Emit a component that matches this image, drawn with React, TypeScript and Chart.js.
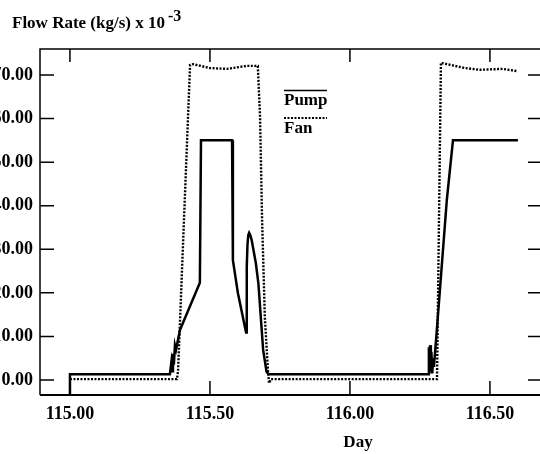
import React, { useEffect, useRef } from "react";
import { Chart, registerables } from "chart.js";
Chart.register(...registerables);

// ---- data ----
const pumpDay = [
  115.0, 115.0, 115.357, 115.362, 115.365, 115.368, 115.371, 115.375, 115.379, 115.393,
  115.464, 115.468, 115.579, 115.582, 115.6, 115.629, 115.631, 115.632, 115.634, 115.637,
  115.64, 115.644, 115.649, 115.664, 115.673, 115.69, 115.702, 115.71, 116.279, 116.282,
  116.284, 116.286, 116.289, 116.291, 116.294, 116.297, 116.3, 116.314, 116.346, 116.368,
  116.6,
];
const pumpFlow = [
  -3.4, 1.3, 1.3, 4, 2, 6, 3.5, 8, 7, 11.5,
  22.3, 55, 55, 27.5, 19.9, 10.9, 14.5, 26, 31, 33.3,
  33.8, 33.3, 32.1, 26.8, 22.2, 6.9, 1.9, 1.3, 1.3, 7.5,
  1.5, 8, 2, 6.5, 1.5, 5, 3, 14.5, 41.3, 55,
  55,
];
const fanDay = [
  115.0, 115.382, 115.386, 115.429, 115.439, 115.5, 115.561, 115.632, 115.671, 115.679,
  115.686, 115.696, 115.707, 115.711, 115.718, 116.311, 116.325, 116.346, 116.41, 116.464,
  116.546, 116.596,
];
const fanFlow = [
  0.2, 0.2, 2, 72.3, 72.5, 71.6, 71.4, 72.1, 72.1, 60.3,
  37.4, 14.5, 2.3, -0.7, 0.2, 0.2, 72.8, 72.5, 71.6, 71.2,
  71.4, 70.9,
];
const xTicks = [115.0, 115.5, 116.0, 116.5];
const yTicks = [0, 10, 20, 30, 40, 50, 60, 70];
const xMin = 114.893;
const xMax = 116.686;
const yMin = -3.44;
const yMax = 75.97;

const FONT = "'Liberation Serif', 'Times New Roman', serif";

const decorPlugin = {
  id: "decor",
  afterDraw(chart: any) {
    const { ctx, chartArea: a, scales } = chart;
    const xs = scales.x;
    const ys = scales.y;
    ctx.save();
    ctx.strokeStyle = "#000";
    ctx.setLineDash([]);
    // frame
    ctx.lineWidth = 1.5;
    ctx.beginPath();
    ctx.moveTo(a.left, a.bottom);
    ctx.lineTo(a.left, a.top);
    ctx.lineTo(a.right, a.top);
    ctx.lineTo(a.right, a.bottom);
    ctx.stroke();
    ctx.lineWidth = 2;
    ctx.beginPath();
    ctx.moveTo(a.left, a.bottom);
    ctx.lineTo(a.right, a.bottom);
    ctx.stroke();
    // ticks
    ctx.lineWidth = 1.5;
    ctx.beginPath();
    for (const v of yTicks) {
      const y = ys.getPixelForValue(v);
      ctx.moveTo(a.left, y);
      ctx.lineTo(a.left + 14, y);
      ctx.moveTo(a.right, y);
      ctx.lineTo(a.right - 14, y);
    }
    for (const v of xTicks) {
      const x = xs.getPixelForValue(v);
      ctx.moveTo(x, a.bottom);
      ctx.lineTo(x, a.bottom - 14);
      ctx.moveTo(x, a.top);
      ctx.lineTo(x, a.top + 13);
    }
    ctx.stroke();

    // title
    ctx.fillStyle = "#000";
    ctx.textAlign = "left";
    ctx.textBaseline = "alphabetic";
    ctx.font = `bold 17px ${FONT}`;
    const t = "Flow Rate (kg/s) x 10";
    ctx.fillText(t, 12, 28);
    const w = ctx.measureText(t).width;
    ctx.font = `bold 16px ${FONT}`;
    ctx.fillText("-3", 12 + w + 3, 21);

    // axis title
    ctx.font = `bold 17px ${FONT}`;
    ctx.textAlign = "center";
    ctx.fillText("Day", 358, 447);

    // legend
    ctx.textAlign = "left";
    ctx.lineWidth = 1.5;
    ctx.beginPath();
    ctx.moveTo(284, 90.5);
    ctx.lineTo(327, 90.5);
    ctx.stroke();
    ctx.fillText("Pump", 284, 105);
    ctx.lineWidth = 2.2;
    ctx.setLineDash([2, 1.5]);
    ctx.beginPath();
    ctx.moveTo(284, 118);
    ctx.lineTo(327, 118);
    ctx.stroke();
    ctx.setLineDash([]);
    ctx.fillText("Fan", 284, 133);
    ctx.restore();
  },
};

export default function App() {
  const ref = useRef<HTMLCanvasElement | null>(null);
  useEffect(() => {
    if (!ref.current) return;
    const tickFont = { family: FONT, size: 18, weight: "bold" as const };
    const chart = new Chart(ref.current, {
      type: "line",
      data: {
        datasets: [
          {
            label: "Pump",
            data: pumpDay.map((d, i) => ({ x: d, y: pumpFlow[i] })),
            borderColor: "#000",
            borderWidth: 2.5,
            pointRadius: 0,
            tension: 0,
            fill: false,
          },
          {
            label: "Fan",
            data: fanDay.map((d, i) => ({ x: d, y: fanFlow[i] })),
            borderColor: "#000",
            borderWidth: 2.4,
            borderDash: [2, 1.5],
            pointRadius: 0,
            tension: 0,
            fill: false,
          },
        ],
      },
      options: {
        responsive: false,
        animation: false,
        layout: { padding: { top: 49, right: 18, bottom: 0, left: 0 } },
        plugins: { legend: { display: false }, tooltip: { enabled: false } },
        scales: {
          x: {
            type: "linear",
            min: xMin,
            max: xMax,
            afterBuildTicks: (s: any) => {
              s.ticks = xTicks.map((v) => ({ value: v }));
            },
            afterFit: (s: any) => {
              s.height = 59;
            },
            grid: { display: false, drawTicks: false },
            border: { display: false },
            ticks: {
              padding: 9,
              color: "#000",
              font: tickFont,
              maxRotation: 0,
              autoSkip: false,
              callback: (v: any) => Number(v).toFixed(2),
            },
          },
          y: {
            type: "linear",
            min: yMin,
            max: yMax,
            afterBuildTicks: (s: any) => {
              s.ticks = yTicks.map((v) => ({ value: v }));
            },
            afterFit: (s: any) => {
              s.width = 40;
            },
            grid: { display: false, drawTicks: false },
            border: { display: false },
            ticks: {
              padding: 7,
              color: "#000",
              font: tickFont,
              autoSkip: false,
              callback: (v: any) => Number(v).toFixed(2),
            },
          },
        },
      },
      plugins: [decorPlugin],
    });
    return () => chart.destroy();
  }, []);
  return (
    <div
      style={{
        position: "fixed",
        left: 0,
        top: 0,
        width: 540,
        height: 454,
        overflow: "hidden",
        background: "#fff",
      }}
    >
      <canvas
        ref={ref}
        width={560}
        height={454}
        style={{ position: "absolute", left: 0, top: 0, width: 560, height: 454 }}
      />
    </div>
  );
}
